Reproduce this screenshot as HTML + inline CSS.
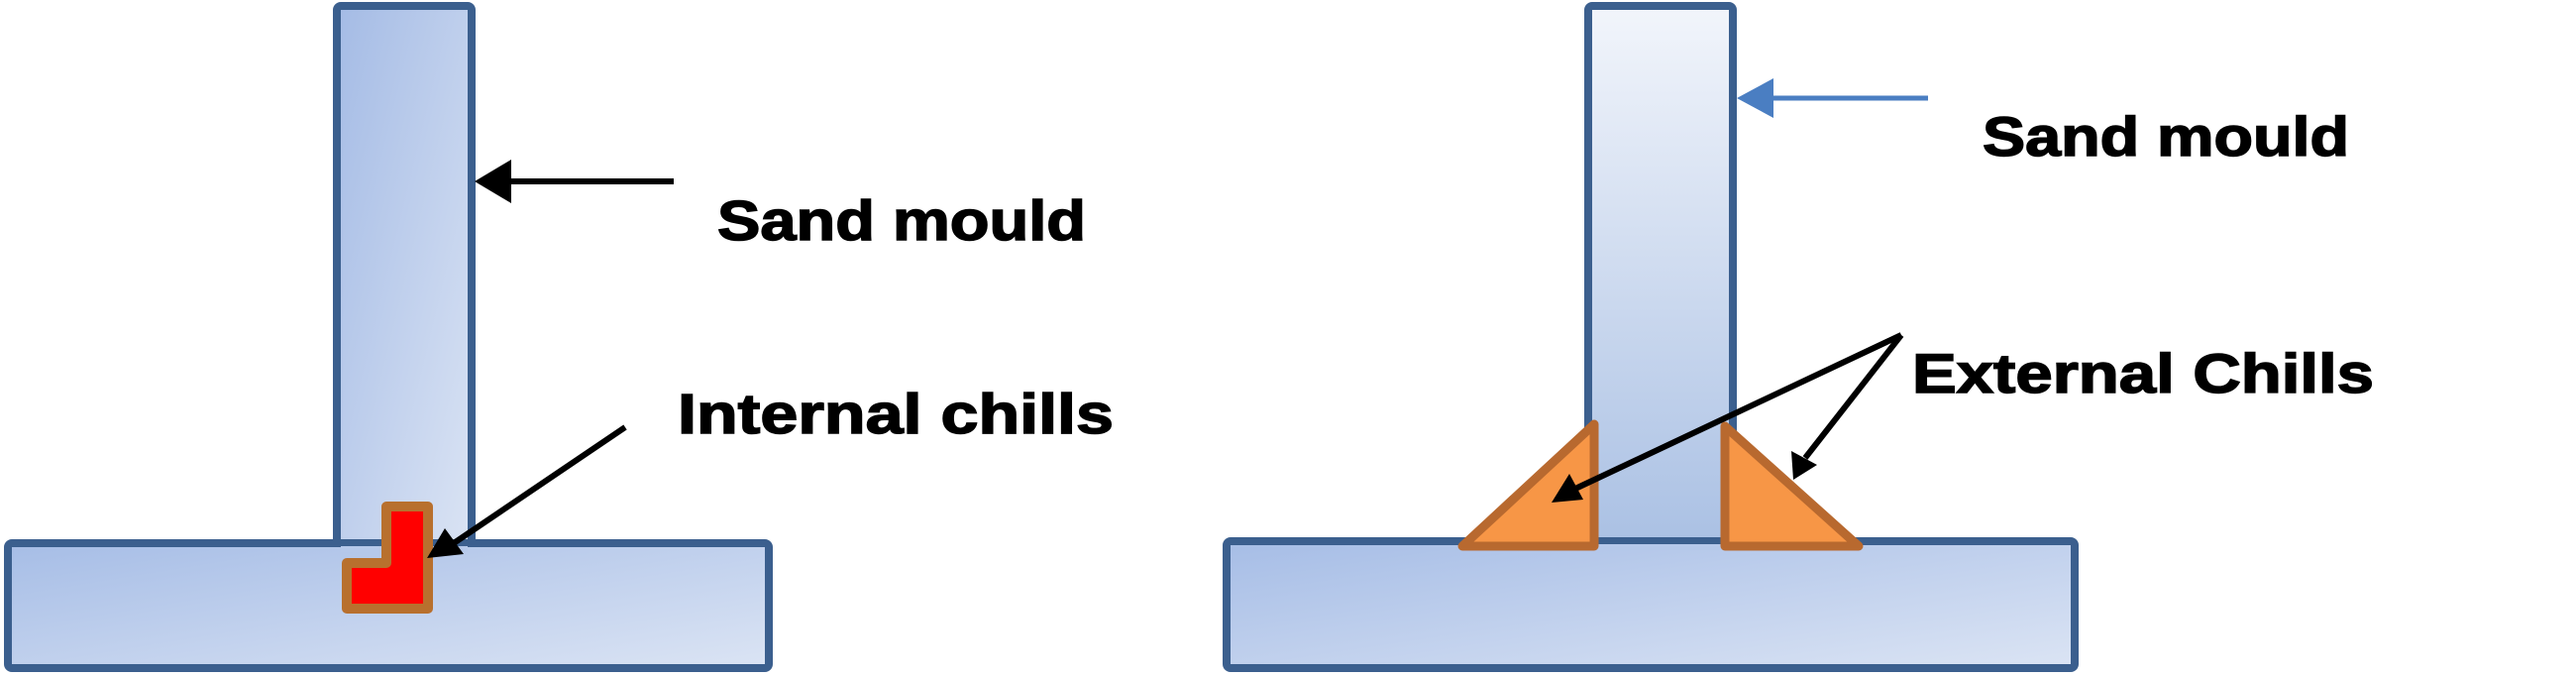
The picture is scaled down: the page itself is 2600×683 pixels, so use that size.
<!DOCTYPE html>
<html><head><meta charset="utf-8"><style>
html,body{margin:0;padding:0;background:#fff;}
svg{display:block;}
text{font-family:"Liberation Sans",Arial,sans-serif;font-weight:bold;fill:#000;stroke:#000;stroke-width:1.5;}
</style></head><body>
<svg width="2600" height="683" viewBox="0 0 2600 683" xmlns="http://www.w3.org/2000/svg">
<defs>
<linearGradient id="g1" x1="0" y1="0" x2="1" y2="1">
<stop offset="0" stop-color="#a4bbe5"/><stop offset="1" stop-color="#dbe4f4"/>
</linearGradient>
<linearGradient id="g2" x1="0" y1="0" x2="0" y2="1">
<stop offset="0" stop-color="#f2f5fb"/><stop offset="1" stop-color="#a8bfe3"/>
</linearGradient>
<linearGradient id="g3" x1="0" y1="0" x2="1" y2="1">
<stop offset="0" stop-color="#a6bde6"/><stop offset="1" stop-color="#dbe4f4"/>
</linearGradient>
</defs>

<!-- LEFT -->
<rect x="340" y="6" width="136" height="560" rx="4" fill="url(#g1)" stroke="#3b5f8e" stroke-width="8"/>
<rect x="8" y="548" width="768" height="126" rx="4" fill="url(#g3)" stroke="#3b5f8e" stroke-width="8"/>
<rect x="344" y="551" width="128" height="6" fill="#b5c8ea"/>
<path d="M390 511 H432 V614 H350 V568 H390 Z" fill="#ff0000" stroke="#b8702e" stroke-width="10" stroke-linejoin="round"/>
<line x1="680" y1="183" x2="510" y2="183" stroke="#000" stroke-width="6"/>
<polygon points="479,183 516,161 516,205" fill="#000"/>
<text x="724" y="242" font-size="57" textLength="372" lengthAdjust="spacingAndGlyphs">Sand mould</text>
<text x="684" y="437" font-size="57" textLength="440" lengthAdjust="spacingAndGlyphs">Internal chills</text>
<line x1="631" y1="431" x2="455" y2="550" stroke="#000" stroke-width="6"/>
<polygon points="431,563 449,533 468,559" fill="#000"/>

<!-- RIGHT -->
<rect x="1603" y="6" width="146" height="560" rx="4" fill="url(#g2)" stroke="#3b5f8e" stroke-width="8"/>
<rect x="1238" y="546" width="856" height="128" rx="4" fill="url(#g3)" stroke="#3b5f8e" stroke-width="8"/>
<rect x="1607" y="549" width="138" height="6" fill="#b5c8ea"/>
<polygon points="1609,428 1609,551 1476,551" fill="#f79646" stroke="#b8692f" stroke-width="9" stroke-linejoin="round"/>
<polygon points="1741,430 1741,551 1876,551" fill="#f79646" stroke="#b8692f" stroke-width="9" stroke-linejoin="round"/>
<line x1="1946" y1="99" x2="1780" y2="99" stroke="#4a7ec2" stroke-width="5"/>
<polygon points="1753,99 1790,79 1790,119" fill="#4a7ec2"/>
<text x="2001" y="157" font-size="56" textLength="370" lengthAdjust="spacingAndGlyphs">Sand mould</text>
<text x="1930" y="396" font-size="56" textLength="466" lengthAdjust="spacingAndGlyphs">External Chills</text>
<line x1="1919" y1="338" x2="1590" y2="493" stroke="#000" stroke-width="6"/>
<polygon points="1566,507 1584,478 1598,504" fill="#000"/>
<line x1="1919" y1="338" x2="1822" y2="462" stroke="#000" stroke-width="6"/>
<polygon points="1810,484 1808,455 1834,469" fill="#000"/>
</svg>
</body></html>
